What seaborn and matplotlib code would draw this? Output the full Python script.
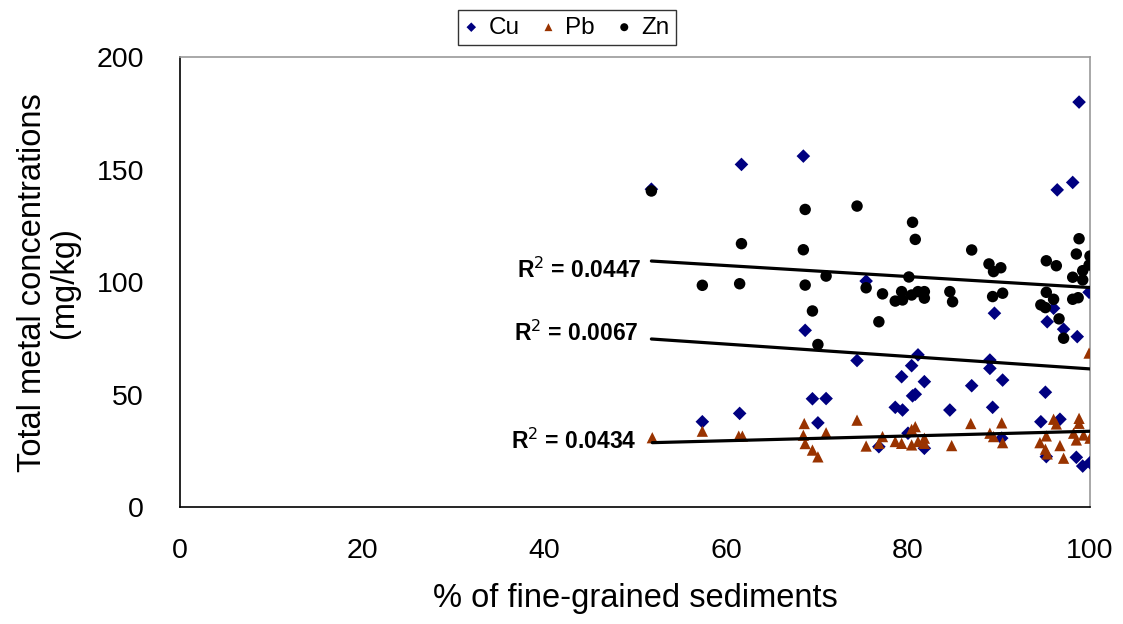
import numpy as np
import pandas as pd
import seaborn as sns
import matplotlib.pyplot as plt

# % fine-grained sediments vs total metal concentration (mg/kg)
cu_x = [51.8, 57.4, 61.5, 61.7, 68.5, 68.7, 69.5, 70.1, 71.0, 74.4, 75.4, 76.8, 78.6, 79.3, 79.4,
        80.0, 80.4, 80.5, 80.8, 81.1, 81.8, 81.8, 84.6, 87.0, 89.0, 89.0, 89.3, 89.5, 90.3, 90.4,
        94.6, 95.1, 95.2, 95.3, 96.0, 96.4, 96.7, 97.1, 98.1, 98.5, 98.6, 98.8, 99.2, 99.9, 100.0]
cu_y = [141.4, 38.1, 41.8, 152.4, 156.1, 78.7, 48.3, 37.6, 48.4, 65.3, 100.6, 27.0, 44.5, 58.1, 43.3,
        33.0, 63.0, 49.6, 50.3, 67.8, 55.9, 26.3, 43.3, 54.1, 65.5, 61.8, 44.5, 86.3, 30.8, 56.6,
        38.1, 51.2, 22.6, 82.5, 88.5, 141.1, 39.2, 79.2, 144.4, 22.3, 75.9, 180.1, 18.4, 95.6, 19.9]

pb_x = [51.9, 57.4, 61.4, 61.8, 68.6, 68.5, 68.7, 69.5, 70.1, 71.0, 74.4, 75.4, 76.8, 77.2, 78.6,
        79.3, 80.4, 80.4, 80.8, 81.1, 81.8, 81.8, 84.8, 86.9, 89.0, 89.4, 90.3, 90.4, 94.5, 95.2,
        95.1, 95.3, 96.0, 96.3, 96.7, 97.1, 98.2, 98.5, 98.8, 98.8, 99.3, 100.0, 99.9]
pb_y = [31.0, 33.9, 31.7, 31.7, 37.3, 32.1, 28.4, 25.5, 22.5, 33.2, 38.8, 27.3, 28.5, 31.5, 29.3,
        28.5, 27.8, 34.7, 35.9, 29.3, 30.8, 28.5, 27.5, 37.3, 33.0, 31.5, 37.6, 28.8, 28.8, 31.8,
        25.9, 23.8, 39.2, 37.1, 27.5, 21.9, 33.0, 30.0, 39.6, 37.4, 32.2, 30.8, 68.6]

zn_x = [51.8, 57.4, 61.5, 61.7, 68.5, 68.7, 68.7, 69.5, 70.1, 71.0, 74.4, 75.4, 76.8, 77.2, 78.6,
        79.3, 79.4, 80.1, 80.4, 80.5, 80.8, 81.1, 81.8, 81.8, 84.6, 84.9, 87.0, 88.9, 89.4, 90.2,
        89.3, 90.4, 94.6, 95.1, 95.2, 95.2, 96.0, 96.3, 96.6, 97.1, 98.1, 98.1, 98.5, 98.7, 98.8,
        99.2, 99.2, 99.9, 100.0]
zn_y = [140.6, 98.7, 99.4, 117.2, 114.5, 132.4, 98.8, 87.3, 72.4, 102.8, 133.9, 97.6, 82.5, 94.9, 91.7,
        95.9, 92.2, 102.4, 94.4, 126.7, 119.1, 95.9, 95.9, 93.0, 95.9, 91.4, 114.4, 108.2, 104.8, 106.5,
        93.7, 95.2, 90.0, 88.8, 109.6, 95.6, 92.5, 107.4, 83.8, 75.2, 102.3, 92.5, 112.6, 93.2, 119.4,
        105.2, 101.1, 107.7, 111.7]

metals = ["Cu", "Pb", "Zn"]
r2_labels = {"Zn": "0.0447", "Cu": "0.0067", "Pb": "0.0434"}

colors = {"Cu": "#000080", "Pb": "#993300", "Zn": "#000000"}
markers = {"Cu": "D", "Pb": "^", "Zn": "o"}
sizes = {"Cu": 48, "Pb": 66, "Zn": 68}
# where Excel placed the R² boxes (right edge x, centre y)
label_pos = {"Zn": (50.7, 105.4), "Cu": (50.4, 77.5), "Pb": (50.2, 29.4)}

df = pd.concat([
    pd.DataFrame({"metal": "Cu", "fine": cu_x, "conc": cu_y}),
    pd.DataFrame({"metal": "Pb", "fine": pb_x, "conc": pb_y}),
    pd.DataFrame({"metal": "Zn", "fine": zn_x, "conc": zn_y}),
])

sns.set_style("white")
plt.rcParams["font.family"] = ["Liberation Sans", "DejaVu Sans"]
plt.rcParams["text.color"] = "black"
plt.rcParams["axes.labelcolor"] = "black"
plt.rcParams["xtick.color"] = "black"
plt.rcParams["ytick.color"] = "black"

fig = plt.figure(figsize=(11.23, 6.24), dpi=100)
ax = fig.add_axes([0.1603, 0.1867, 0.8103, 0.7215])

for m in metals:
    sub = df[df.metal == m]
    sns.scatterplot(data=sub, x="fine", y="conc", ax=ax, color=colors[m], marker=markers[m],
                    s=sizes[m], edgecolor="none", linewidth=0, label=m, zorder=3)

for m in metals:
    sub = df[df.metal == m]
    sns.regplot(data=sub, x="fine", y="conc", ax=ax, scatter=False, ci=None, truncate=True,
                line_kws={"color": "black", "lw": 2.3, "zorder": 4})
    lx, ly = label_pos[m]
    ax.text(lx, ly, "R$^2$ = " + r2_labels[m], ha="right", va="center",
            fontsize=16.5, fontweight="bold")

ax.set_xlim(0, 100)
ax.set_ylim(0, 200)
ax.set_xticks(range(0, 101, 20))
ax.set_yticks(range(0, 201, 50))
ax.tick_params(axis="x", direction="in", length=7, width=1, color="#555555", pad=22, labelsize=20.5)
ax.tick_params(axis="y", direction="in", length=0, pad=26, labelsize=20.5)
ax.set_xlabel("% of fine-grained sediments", fontsize=23.5, labelpad=14)
ax.set_ylabel("Total metal concentrations\n(mg/kg)", fontsize=23.5, labelpad=12, linespacing=1.05)

for side in ["left", "bottom"]:
    ax.spines[side].set_color("black")
    ax.spines[side].set_linewidth(1.2)
for side in ["top", "right"]:
    ax.spines[side].set_color("#999999")
    ax.spines[side].set_linewidth(1.2)

leg = ax.legend(loc="center", bbox_to_anchor=(0.425, 1.066), ncol=3, fontsize=17.5, frameon=True,
                fancybox=False, edgecolor="black", markerscale=0.7, handlelength=0.6,
                handletextpad=0.4, columnspacing=0.9, borderpad=0.25, borderaxespad=0)
leg.get_frame().set_linewidth(1.0)

fig.savefig("out.png", dpi=100)
